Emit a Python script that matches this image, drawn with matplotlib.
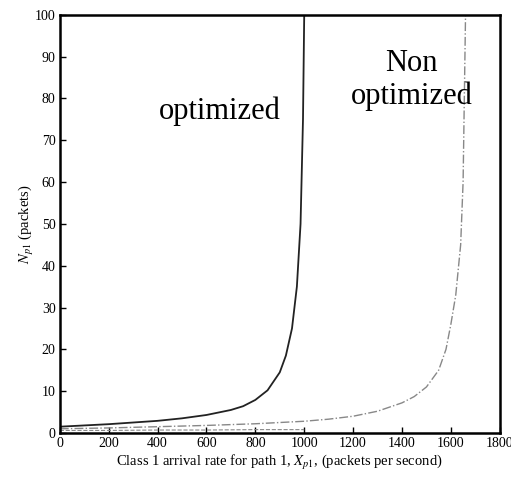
import numpy as np
import matplotlib
matplotlib.use("Agg")
import matplotlib.pyplot as plt

plt.rcParams['font.family'] = ['Liberation Serif', 'DejaVu Serif']
plt.rcParams['mathtext.fontset'] = 'stix'

# curva otimizada (linha cheia)
taxa_otim = [0, 100, 200, 300, 400, 500, 600, 700, 750, 800, 850, 900, 925, 950, 970, 985, 995, 1000]
n_otim = [1.5, 1.8, 2.1, 2.5, 2.9, 3.5, 4.3, 5.5, 6.4, 7.9, 10.2, 14.5, 18.5, 25, 35, 50, 75, 100]

# curva nao otimizada (traco-ponto)
taxa_nao = [0, 200, 400, 600, 800, 1000, 1100, 1200, 1300, 1400, 1450, 1500, 1550, 1580, 1600, 1620, 1640, 1650, 1655, 1660]
n_nao = [1.0, 1.2, 1.5, 1.8, 2.2, 2.8, 3.3, 4.0, 5.2, 7.2, 8.7, 11, 15, 20, 26, 33, 45, 60, 80, 100]

# linha quase nula (outra classe)
taxa_base = [0, 200, 400, 600, 800, 1000]
n_base = [0.6, 0.6, 0.7, 0.7, 0.8, 0.8]

fig = plt.figure(figsize=(5.11, 4.8), dpi=100)
ax = fig.add_axes([0.117, 0.098, 0.861, 0.871])

ax.plot(taxa_base, n_base, color='#888888', linestyle='--', linewidth=0.8)
ax.plot(taxa_nao, n_nao, color='#888888', linestyle='-.', linewidth=1.0)
ax.plot(taxa_otim, n_otim, color='#222222', linestyle='-', linewidth=1.3)

ax.set_xlim(0, 1800)
ax.set_ylim(0, 100)
ax.set_xticks(np.arange(0, 1801, 200))
ax.set_yticks(np.arange(0, 101, 10))
ax.tick_params(direction='in', length=4, labelsize=10, width=1, pad=3)
for s in ax.spines.values():
    s.set_linewidth(1.8)

ax.text(655, 77, 'optimized', fontsize=22, ha='center', va='center')
ax.text(1440, 84.5, 'Non\noptimized', fontsize=22, ha='center', va='center', linespacing=1.15)

ax.set_xlabel(r'Class 1 arrival rate for path 1, $X_{p1}$, (packets per second)', fontsize=10.5, labelpad=2)
ax.set_ylabel(r'$N_{p1}$ (packets)', fontsize=10.5, labelpad=-1)

plt.savefig('out.png', dpi=100)
